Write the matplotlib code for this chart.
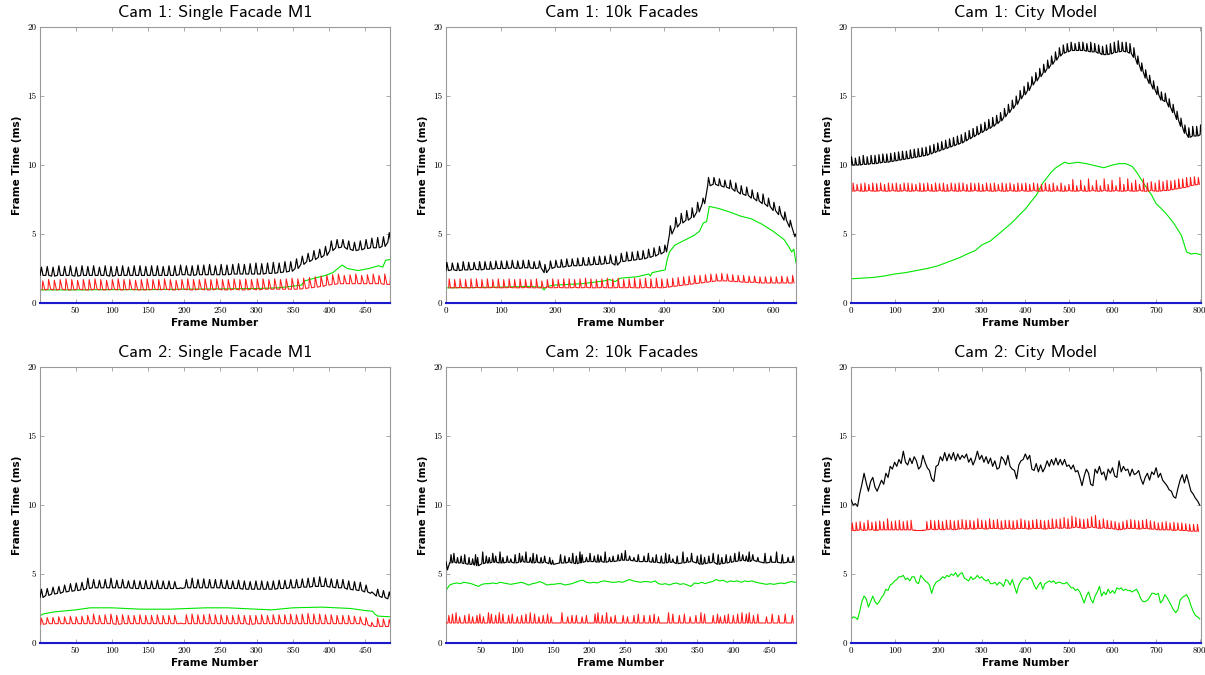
import matplotlib
matplotlib.use("Agg")
import matplotlib.pyplot as plt
import numpy as np

# ---------------- Cam 1: Single Facade M1 (frames 1..484) ----------------
c1f_black_lo = [2.0, 2.0, 1.95, 2.0, 2.0, 2.0, 1.95, 2.0, 2.0, 2.0,
                2.0, 2.0, 1.95, 2.0, 2.0, 2.0, 2.0, 2.0, 2.0, 2.0,
                2.0, 2.0, 2.0, 2.0, 2.05, 2.05, 2.0, 2.05, 2.05, 2.05,
                2.05, 2.05, 2.05, 2.1, 2.1, 2.1, 2.1, 2.1, 2.1, 2.15,
                2.15, 2.2, 2.25, 2.3, 2.5, 2.8, 3.0, 3.15, 3.3, 3.45,
                3.8, 4.0, 4.05, 3.9, 3.8, 3.85, 3.95, 4.0, 4.0, 4.1,
                4.4]
c1f_black_hi = [2.6, 2.65, 2.6, 2.7, 2.65, 2.7, 2.6, 2.7, 2.65, 2.7,
                2.6, 2.7, 2.65, 2.65, 2.7, 2.6, 2.7, 2.7, 2.65, 2.7,
                2.7, 2.65, 2.7, 2.7, 2.75, 2.7, 2.7, 2.75, 2.75, 2.8,
                2.7, 2.8, 2.75, 2.8, 2.85, 2.8, 2.85, 2.9, 2.85, 2.9,
                2.95, 2.9, 3.0, 3.0, 3.2, 3.4, 3.6, 3.8, 3.9, 4.1,
                4.5, 4.6, 4.6, 4.5, 4.4, 4.5, 4.6, 4.7, 4.75, 4.8,
                5.1]
c1f_red_lo = [0.95, 1.0, 0.95, 1.0, 0.95, 0.95, 1.0, 0.95, 0.95, 1.0,
              0.95, 0.95, 1.0, 0.95, 0.95, 1.0, 0.95, 0.95, 0.95, 1.0,
              0.95, 1.0, 0.95, 0.95, 1.0, 0.95, 0.95, 1.0, 0.95, 0.95,
              1.0, 0.95, 0.95, 1.0, 0.95, 0.95, 1.0, 0.95, 1.0, 1.0,
              1.0, 1.0, 1.0, 1.0, 1.0, 1.05, 1.1, 1.15, 1.2, 1.3,
              1.35, 1.4, 1.4, 1.4, 1.4, 1.4, 1.4, 1.4, 1.4, 1.35,
              1.35]
c1f_red_hi = [1.6, 1.7, 1.65, 1.7, 1.75, 1.7, 1.65, 1.7, 1.7, 1.75,
              1.7, 1.65, 1.7, 1.75, 1.7, 1.7, 1.65, 1.7, 1.75, 1.7,
              1.7, 1.75, 1.7, 1.65, 1.7, 1.75, 1.7, 1.7, 1.75, 1.7,
              1.75, 1.7, 1.7, 1.75, 1.7, 1.75, 1.7, 1.75, 1.75, 1.7,
              1.75, 1.7, 1.75, 1.8, 1.75, 1.8, 1.85, 1.9, 1.95, 2.0,
              2.05, 2.1, 2.0, 2.05, 2.1, 2.0, 2.05, 2.1, 2.0, 2.1,
              2.1]
c1f_green_x = [1, 50, 100, 150, 200, 250, 300, 330, 355, 362,
               366, 380, 395, 405, 412, 418, 425, 440, 455, 468,
               474, 478, 484]
c1f_green_y = [0.95, 0.95, 0.97, 0.97, 1.0, 1.02, 1.05, 1.1, 1.25, 1.3,
               1.6, 1.8, 2.0, 2.2, 2.5, 2.75, 2.5, 2.35, 2.5, 2.7,
               2.6, 3.1, 3.15]

# ---------------- Cam 1: 10k Facades (frames 0..642) ----------------
c1k_black_lo = [2.35, 2.4, 2.35, 2.4, 2.4, 2.45, 2.4, 2.45, 2.45, 2.5,
                2.5, 2.5, 2.55, 2.5, 2.55, 2.55, 2.5, 2.55, 2.2, 2.5,
                2.6, 2.6, 2.65, 2.7, 2.7, 2.75, 2.75, 2.8, 2.8, 2.85,
                2.9, 2.75, 3.0, 3.05, 3.1, 3.15, 3.2, 3.3, 3.4, 3.55,
                3.7, 5.0, 5.5, 5.8, 6.0, 6.2, 6.6, 7.2, 8.5, 8.6,
                8.5, 8.4, 8.3, 8.1, 7.9, 7.8, 7.6, 7.4, 7.2, 7.0,
                6.7, 6.4, 6.0, 5.5, 4.8]
c1k_black_hi = [2.95, 2.9, 2.9, 3.0, 2.95, 2.95, 3.0, 3.0, 3.0, 3.05,
                3.05, 3.05, 3.1, 3.05, 3.1, 3.1, 3.0, 3.05, 2.8, 3.05,
                3.1, 3.15, 3.2, 3.2, 3.25, 3.3, 3.3, 3.35, 3.4, 3.4,
                3.5, 3.4, 3.6, 3.7, 3.7, 3.75, 3.8, 3.9, 4.0, 4.1,
                4.2, 5.6, 6.2, 6.5, 6.7, 6.9, 7.3, 7.6, 9.1, 9.1,
                9.0, 8.9, 8.9, 8.7, 8.5, 8.4, 8.2, 8.0, 7.9, 7.6,
                7.3, 7.0, 6.6, 6.0, 5.0]
c1k_red_lo = [1.1, 1.1, 1.12, 1.1, 1.1, 1.12, 1.1, 1.1, 1.12, 1.1,
              1.1, 1.12, 1.1, 1.1, 1.12, 1.1, 1.1, 1.1, 1.12, 1.1,
              1.12, 1.1, 1.1, 1.12, 1.1, 1.12, 1.1, 1.1, 1.12, 1.1,
              1.1, 1.12, 1.1, 1.12, 1.1, 1.1, 1.12, 1.1, 1.12, 1.1,
              1.15, 1.2, 1.25, 1.3, 1.35, 1.4, 1.45, 1.5, 1.55, 1.6,
              1.6, 1.6, 1.55, 1.55, 1.5, 1.5, 1.5, 1.45, 1.45, 1.45,
              1.45, 1.45, 1.45, 1.45]
c1k_red_hi = [1.75, 1.7, 1.75, 1.7, 1.75, 1.75, 1.7, 1.75, 1.7, 1.75,
              1.7, 1.75, 1.7, 1.75, 1.7, 1.7, 1.75, 1.6, 1.7, 1.75,
              1.7, 1.75, 1.75, 1.7, 1.75, 1.8, 1.75, 1.7, 1.75, 1.8,
              1.75, 1.8, 1.7, 1.75, 1.8, 1.75, 1.8, 1.75, 1.8, 1.75,
              1.75, 1.8, 1.85, 1.9, 1.95, 2.0, 2.0, 2.05, 2.1, 2.1,
              2.15, 2.1, 2.05, 2.0, 2.0, 1.95, 1.95, 1.9, 1.9, 1.9,
              1.9, 1.95, 1.9, 2.0]
c1k_green_x = [0, 50, 100, 150, 175, 180, 185, 200, 250, 290,
               300, 310, 320, 350, 372, 375, 378, 390, 402, 406,
               410, 420, 440, 455, 465, 472, 478, 483, 500, 520,
               540, 560, 580, 600, 620, 630, 634, 638, 642]
c1k_green_y = [1.1, 1.12, 1.15, 1.2, 1.15, 0.95, 1.2, 1.3, 1.4, 1.6,
               1.7, 1.55, 1.8, 1.9, 2.1, 1.95, 2.2, 2.3, 2.4, 3.2,
               3.7, 4.2, 4.6, 4.9, 5.2, 5.8, 5.9, 7.0, 6.85, 6.6,
               6.3, 6.1, 5.7, 5.2, 4.6, 4.0, 3.7, 3.9, 2.9]

# ---------------- Cam 1: City Model (frames 0..802) ----------------
c1c_black_lo = [10.0, 10.0, 10.0, 10.05, 10.05, 10.1, 10.1, 10.15, 10.2, 10.2,
                10.25, 10.3, 10.35, 10.4, 10.45, 10.5, 10.55, 10.6, 10.65, 10.7,
                10.8, 10.9, 11.0, 11.1, 11.2, 11.3, 11.4, 11.5, 11.6, 11.75,
                11.9, 12.05, 12.2, 12.35, 12.5, 12.65, 12.8, 13.0, 13.2, 13.5,
                13.8, 14.1, 14.4, 14.8, 15.1, 15.4, 15.8, 16.1, 16.4, 16.7,
                17.0, 17.3, 17.6, 17.9, 18.1, 18.2, 18.3, 18.3, 18.3, 18.3,
                18.25, 18.2, 18.2, 18.1, 18.0, 18.0, 18.05, 18.15, 18.2, 18.25,
                18.2, 18.1, 17.8, 17.3, 16.8, 16.3, 15.9, 15.5, 15.1, 14.7,
                14.6, 14.2, 13.8, 13.3, 12.8, 12.3, 12.0, 12.1, 12.1, 12.2]
c1c_black_hi = [10.6, 10.5, 10.6, 10.7, 10.6, 10.7, 10.7, 10.75, 10.8, 10.8,
                10.85, 10.9, 10.95, 11.0, 11.0, 11.1, 11.15, 11.2, 11.25, 11.3,
                11.4, 11.5, 11.6, 11.7, 11.8, 11.9, 12.0, 12.1, 12.2, 12.35,
                12.5, 12.65, 12.8, 12.95, 13.1, 13.3, 13.45, 13.6, 13.8, 14.1,
                14.4, 14.7, 15.0, 15.4, 15.7, 16.0, 16.4, 16.7, 17.0, 17.3,
                17.6, 17.9, 18.2, 18.5, 18.7, 18.8, 18.9, 18.8, 18.9, 18.9,
                18.8, 18.9, 18.8, 18.7, 18.6, 18.7, 18.8, 18.9, 19.0, 18.9,
                18.9, 18.8, 18.5, 17.9, 17.4, 16.9, 16.5, 16.1, 15.7, 15.3,
                15.2, 14.8, 14.4, 13.9, 13.4, 12.9, 12.7, 12.8, 12.8, 12.9]
c1c_red_lo = [8.1, 8.15, 8.1, 8.1, 8.15, 8.1, 8.1, 8.15, 8.1, 8.1,
              8.15, 8.1, 8.1, 8.15, 8.1, 8.1, 8.15, 8.1, 8.1, 8.15,
              8.1, 8.1, 8.15, 8.1, 8.1, 8.15, 8.1, 8.1, 8.15, 8.1,
              8.1, 8.15, 8.1, 8.1, 8.15, 8.1, 8.1, 8.15, 8.1, 8.1,
              8.15, 8.1, 8.1, 8.15, 8.1, 8.1, 8.15, 8.1, 8.1, 8.15,
              8.1, 8.1, 8.15, 8.1, 8.1, 8.15, 8.1, 8.1, 8.15, 8.1,
              8.1, 8.15, 8.1, 8.1, 8.15, 8.1, 8.1, 8.15, 8.1, 8.1,
              8.15, 8.1, 8.1, 8.15, 8.1, 8.1, 8.15, 8.1, 8.1, 8.15,
              8.15, 8.2, 8.25, 8.3, 8.35, 8.4, 8.5, 8.55, 8.6]
c1c_red_hi = [8.7, 8.6, 8.65, 8.7, 8.6, 8.7, 8.65, 8.7, 8.6, 8.7,
              8.65, 8.7, 8.6, 8.7, 8.7, 8.65, 8.6, 8.7, 8.65, 8.7,
              8.6, 8.7, 8.65, 8.7, 8.6, 8.7, 8.65, 8.7, 8.7, 8.6,
              8.7, 8.65, 8.7, 8.6, 8.7, 8.65, 8.7, 8.6, 8.7, 8.65,
              8.7, 8.6, 8.7, 8.65, 8.7, 8.6, 8.7, 8.65, 8.6, 8.7,
              8.6, 8.7, 8.5, 8.7, 8.5, 8.6, 8.95, 8.5, 8.9, 8.5,
              9.0, 8.5, 8.9, 8.5, 9.0, 8.6, 8.9, 8.5, 9.1, 8.6,
              9.0, 8.7, 8.9, 8.6, 9.0, 8.7, 8.8, 8.7, 8.9, 8.8,
              8.9, 8.85, 8.9, 9.0, 9.0, 9.1, 9.1, 9.15, 9.1]
c1c_green_x = [0, 25, 50, 75, 100, 125, 150, 175, 200, 225,
               250, 270, 285, 300, 320, 335, 350, 365, 375, 390,
               400, 412, 425, 440, 450, 460, 470, 480, 490, 500,
               520, 540, 560, 580, 590, 600, 615, 630, 645, 655,
               665, 675, 690, 700, 710, 725, 740, 750, 758, 765,
               770, 780, 790, 802]
c1c_green_y = [1.75, 1.8, 1.85, 1.95, 2.1, 2.2, 2.35, 2.5, 2.7, 3.0,
               3.3, 3.6, 3.8, 4.2, 4.5, 4.9, 5.3, 5.7, 6.0, 6.5,
               6.8, 7.3, 7.8, 8.7, 9.1, 9.5, 9.8, 10.0, 10.2, 10.1,
               10.2, 10.1, 9.95, 9.8, 9.9, 10.0, 10.1, 10.1, 9.9, 9.5,
               9.0, 8.5, 7.8, 7.2, 6.9, 6.4, 5.8, 5.3, 4.9, 4.2,
               3.7, 3.55, 3.6, 3.5]

# ---------------- Cam 2: Single Facade M1 (frames 1..484) ----------------
c2f_black_lo = [3.3, 3.45, 3.55, 3.6, 3.7, 3.75, 3.8, 3.85, 3.95, 4.0,
                4.0, 4.0, 4.0, 4.0, 4.0, 4.0, 3.95, 3.95, 3.95, 3.95,
                3.95, 3.95, 3.95, 3.95, 3.95, 4.0, 4.0, 4.0, 4.0, 4.0,
                4.0, 4.0, 3.95, 3.95, 3.95, 3.9, 3.9, 3.9, 3.9, 3.9,
                3.9, 3.95, 3.95, 4.0, 4.0, 4.05, 4.05, 4.1, 4.1, 4.1,
                4.05, 4.0, 4.0, 3.9, 3.85, 3.8, 3.7, 3.6, 3.4, 3.3,
                3.2]
c2f_black_hi = [3.9, 3.95, 4.05, 4.1, 4.2, 4.3, 4.35, 4.4, 4.7, 4.6,
                4.55, 4.6, 4.7, 4.55, 4.6, 4.5, 4.55, 4.5, 4.55, 4.5,
                4.55, 4.5, 4.5, 4.45, 4.0, 4.6, 4.7, 4.6, 4.65, 4.6,
                4.6, 4.6, 4.55, 4.5, 4.55, 4.5, 4.45, 4.5, 4.5, 4.45,
                4.5, 4.55, 4.55, 4.6, 4.6, 4.65, 4.7, 4.75, 4.8, 4.7,
                4.65, 4.6, 4.6, 4.5, 4.45, 4.4, 4.2, 3.7, 3.9, 3.8,
                3.7]
c2f_red_lo = [1.35, 1.4, 1.4, 1.4, 1.4, 1.4, 1.4, 1.4, 1.4, 1.4,
              1.4, 1.4, 1.4, 1.35, 1.4, 1.4, 1.4, 1.4, 1.4, 1.4,
              1.4, 1.4, 1.4, 1.4, 1.4, 1.4, 1.4, 1.4, 1.4, 1.4,
              1.4, 1.4, 1.4, 1.4, 1.4, 1.4, 1.35, 1.4, 1.4, 1.4,
              1.4, 1.4, 1.4, 1.4, 1.4, 1.4, 1.4, 1.4, 1.4, 1.4,
              1.4, 1.4, 1.4, 1.4, 1.4, 1.4, 1.3, 1.2, 1.2, 1.2,
              1.2]
c2f_red_hi = [1.8, 1.85, 1.85, 1.9, 1.9, 1.95, 1.9, 1.95, 2.0, 2.1,
              2.0, 2.05, 2.1, 2.0, 2.05, 2.0, 2.0, 2.05, 2.0, 2.0,
              2.05, 2.0, 2.0, 2.0, 1.45, 2.05, 2.1, 2.05, 2.05, 2.1,
              2.05, 2.05, 2.0, 2.0, 2.05, 2.0, 2.0, 2.0, 2.05, 2.0,
              2.05, 2.05, 2.05, 2.1, 2.05, 2.1, 2.15, 2.1, 2.1, 2.05,
              2.05, 2.0, 2.0, 2.0, 1.95, 1.9, 1.85, 1.5, 1.8, 1.75,
              1.7]
c2f_green_x = [1, 5, 20, 50, 70, 100, 140, 180, 230, 260,
               300, 320, 350, 390, 430, 450, 460, 463, 467, 484]
c2f_green_y = [1.95, 2.1, 2.25, 2.4, 2.55, 2.55, 2.45, 2.45, 2.55, 2.55,
               2.45, 2.4, 2.55, 2.6, 2.5, 2.35, 2.3, 2.1, 1.95, 1.9]

# ---------------- Cam 2: 10k Facades (frames 1..487) ----------------
c2k_black_lead_x = [1, 3, 6]
c2k_black_lead_y = [5.9, 5.3, 5.8]
c2k_black_spike_x = [8, 12, 17, 22, 27, 33, 38, 42, 45, 52,
                     57, 61, 66, 70, 76, 80, 86, 91, 97, 103,
                     107, 112, 118, 122, 127, 133, 138, 145, 149, 160,
                     166, 172, 177, 182, 187, 190, 196, 201, 207, 212,
                     216, 222, 228, 233, 240, 245, 250, 256, 262, 268,
                     276, 282, 288, 293, 300, 306, 311, 316, 322, 330,
                     336, 342, 350, 355, 360, 366, 372, 379, 384, 390,
                     396, 402, 408, 413, 418, 422, 427, 434, 444, 452,
                     460, 468, 476, 483]
c2k_black_spike_top = [6.4, 6.5, 6.2, 6.3, 6.4, 6.2, 6.1, 6.4, 6.2, 6.6,
                       6.3, 6.2, 6.5, 6.3, 6.6, 6.2, 6.3, 6.1, 6.4, 6.5,
                       6.3, 6.6, 6.2, 6.5, 6.4, 6.2, 6.3, 6.2, 6.0, 6.4,
                       6.3, 6.2, 6.5, 6.3, 6.6, 6.4, 6.2, 6.5, 6.3, 6.4,
                       6.3, 6.6, 6.2, 6.3, 6.4, 6.5, 6.7, 6.3, 6.2, 6.4,
                       6.3, 6.5, 6.2, 6.4, 6.3, 6.5, 6.4, 6.1, 6.3, 6.6,
                       6.2, 6.5, 6.3, 6.4, 6.2, 6.3, 6.5, 6.4, 6.2, 6.4,
                       6.3, 6.5, 6.6, 6.4, 6.3, 6.6, 6.4, 6.2, 6.5, 6.3,
                       6.6, 6.4, 6.2, 6.3]
c2k_black_base = [5.8, 5.85, 5.8, 5.8, 5.75, 5.7, 5.7, 5.65, 5.6, 5.75,
                  5.8, 5.8, 5.85, 5.85, 5.8, 5.8, 5.85, 5.85, 5.8, 5.85,
                  5.9, 5.85, 5.85, 5.8, 5.85, 5.8, 5.85, 5.75, 5.7, 5.8,
                  5.8, 5.85, 5.8, 5.75, 5.8, 5.85, 5.9, 5.9, 5.9, 5.85,
                  5.9, 5.85, 5.9, 5.9, 5.95, 6.0, 6.0, 6.0, 5.95, 5.9,
                  5.9, 5.9, 5.85, 5.85, 5.8, 5.8, 5.85, 5.85, 5.75, 5.8,
                  5.85, 5.9, 5.8, 5.7, 5.75, 5.8, 5.85, 5.7, 5.75, 5.8,
                  5.85, 5.9, 5.95, 6.0, 5.95, 5.9, 6.0, 5.9, 5.8, 5.85,
                  5.85, 5.8, 5.85, 5.85]
c2k_red_spike_x = [5, 10, 15, 20, 27, 33, 38, 44, 48, 53,
                   60, 64, 70, 75, 80, 88, 93, 100, 106, 112,
                   118, 124, 130, 136, 142, 147, 162, 170, 176, 182,
                   190, 196, 208, 212, 218, 224, 230, 236, 247, 253,
                   262, 268, 276, 284, 290, 296, 310, 316, 325, 332,
                   340, 348, 355, 360, 372, 378, 382, 388, 393, 400,
                   406, 412, 418, 422, 428, 434, 446, 454, 463, 472,
                   482]
c2k_red_spike_top = [2.0, 2.1, 2.2, 1.9, 2.0, 2.1, 1.9, 2.0, 2.1, 1.9,
                     2.2, 2.1, 2.0, 2.2, 2.1, 2.0, 2.1, 1.9, 2.0, 2.1,
                     2.2, 2.1, 1.9, 2.0, 2.1, 1.9, 2.2, 1.9, 2.0, 2.0,
                     1.9, 2.0, 2.1, 2.2, 2.0, 2.2, 1.9, 2.0, 2.0, 1.9,
                     2.0, 2.1, 2.0, 2.0, 2.1, 1.9, 2.2, 2.1, 2.0, 2.1,
                     1.9, 2.0, 2.2, 2.1, 2.0, 2.1, 1.9, 2.0, 2.1, 2.0,
                     2.1, 2.2, 2.1, 2.2, 2.0, 2.1, 1.9, 2.1, 2.0, 2.1,
                     2.0]
c2k_red_base = 1.45
c2k_green_y = [3.8, 4.2, 4.3, 4.35, 4.3, 4.4, 4.35, 4.3, 4.2, 4.1,
               4.25, 4.3, 4.3, 4.35, 4.3, 4.4, 4.35, 4.3, 4.25, 4.3,
               4.35, 4.4, 4.3, 4.2, 4.3, 4.35, 4.45, 4.35, 4.2, 4.25,
               4.25, 4.3, 4.3, 4.2, 4.25, 4.3, 4.4, 4.5, 4.55, 4.4,
               4.35, 4.4, 4.35, 4.45, 4.5, 4.45, 4.4, 4.4, 4.45, 4.4,
               4.5, 4.6, 4.5, 4.45, 4.4, 4.45, 4.45, 4.4, 4.5, 4.3,
               4.25, 4.3, 4.2, 4.3, 4.35, 4.25, 4.3, 4.2, 4.1, 4.35,
               4.3, 4.4, 4.3, 4.4, 4.45, 4.6, 4.5, 4.55, 4.4, 4.5,
               4.45, 4.5, 4.4, 4.5, 4.45, 4.5, 4.4, 4.35, 4.3, 4.25,
               4.3, 4.25, 4.3, 4.35, 4.3, 4.4, 4.45, 4.4]
c2k_green_step = 5   # one value every 5 frames, from frame 1

# ---------------- Cam 2: City Model (frames 0..802) ----------------
c2c_black_y = [10.4, 10.0, 10.1, 9.9, 10.8, 11.5, 12.3, 11.6, 11.0, 11.7,
               12.0, 11.3, 11.0, 11.4, 11.8, 11.5, 12.3, 12.0, 12.8, 12.6,
               13.1, 12.8, 13.3, 13.0, 13.9, 13.1, 12.9, 13.4, 13.0, 13.5,
               13.2, 12.6, 12.8, 13.6, 13.1, 12.7, 12.5, 11.9, 11.7, 12.8,
               12.9, 13.5, 13.2, 13.8, 13.2, 13.7, 13.3, 13.8, 13.2, 13.7,
               13.3, 13.6, 13.4, 13.7, 13.1, 13.4, 12.9, 13.3, 13.9, 13.3,
               13.6, 13.1, 13.5, 13.0, 13.4, 12.8, 13.2, 12.6, 12.7, 13.5,
               13.3, 12.9, 13.6, 12.8, 12.6, 12.5, 11.9, 12.9, 13.2, 13.3,
               13.7, 13.3, 13.6, 12.6, 12.5, 13.0, 12.4, 12.9, 12.4, 12.7,
               13.2, 12.8, 13.3, 12.9, 13.4, 12.9, 13.3, 12.9, 13.3, 12.8,
               12.9, 12.6, 12.9, 12.4, 12.5, 12.0, 11.4, 12.1, 12.6, 12.3,
               11.5, 11.4, 12.6, 12.3, 12.8, 12.2, 12.4, 11.8, 12.6, 12.3,
               12.7, 12.1, 12.0, 13.2, 12.4, 12.8, 12.5, 12.6, 12.1, 12.6,
               12.2, 12.3, 12.5, 11.9, 11.5, 12.0, 12.3, 11.8, 12.4, 12.2,
               12.7, 12.0, 12.3, 11.8, 11.6, 11.4, 11.1, 11.0, 10.6, 10.5,
               11.2, 11.8, 12.2, 11.6, 12.2, 11.6, 11.0, 10.8, 10.5, 10.3,
               10.0]
c2c_green_y = [1.7, 1.9, 1.85, 1.7, 2.3, 3.0, 3.4, 3.2, 2.6, 3.0,
               3.4, 3.0, 2.8, 3.0, 3.3, 3.5, 3.9, 3.8, 4.2, 4.3,
               4.5, 4.6, 4.8, 4.8, 4.9, 4.6, 4.7, 4.5, 4.8, 4.8,
               4.4, 4.3, 4.9, 4.7, 4.5, 4.4, 4.2, 3.6, 4.1, 4.4,
               4.5, 4.6, 4.8, 4.7, 4.9, 4.8, 5.0, 4.9, 5.1, 4.8,
               5.0, 5.1, 4.7, 4.6, 4.5, 4.8, 4.6, 4.7, 4.9, 4.7,
               4.8, 4.6, 4.5, 4.6, 4.3, 4.3, 4.4, 4.2, 4.4, 4.3,
               4.1, 4.6, 4.5, 4.2, 4.6, 4.1, 3.6, 4.2, 4.5, 4.7,
               4.7, 4.6, 4.8, 4.6, 4.2, 3.9, 4.2, 4.4, 3.9, 4.3,
               4.4, 4.5, 4.4, 4.5, 4.3, 4.4, 4.4, 4.3, 4.3, 4.4,
               4.2, 4.0, 4.0, 3.8, 3.9, 3.7, 3.3, 2.9, 3.4, 3.7,
               3.2, 2.9, 3.4, 3.7, 4.1, 3.4, 3.7, 3.5, 3.9, 3.6,
               3.8, 3.6, 4.0, 3.9, 4.0, 3.8, 3.9, 3.8, 3.8, 3.7,
               3.8, 3.9, 3.6, 3.2, 3.0, 3.0, 3.1, 3.3, 3.6, 3.6,
               3.5, 3.6, 2.9, 3.1, 3.5, 3.3, 3.0, 2.7, 2.4, 2.2,
               2.4, 3.1, 3.3, 3.4, 3.5, 3.2, 2.7, 2.3, 2.0, 1.9,
               1.75]
c2c_step = 5   # one value every 5 frames, from frame 0
c2c_red_lo = [8.15, 8.15, 8.2, 8.15, 8.2, 8.2, 8.15, 8.2, 8.2, 8.2,
              8.2, 8.2, 8.2, 8.2, 8.2, 8.2, 8.15, 8.15, 8.15, 8.2,
              8.25, 8.2, 8.25, 8.2, 8.25, 8.25, 8.2, 8.25, 8.3, 8.25,
              8.3, 8.25, 8.3, 8.3, 8.25, 8.3, 8.3, 8.3, 8.25, 8.3,
              8.3, 8.25, 8.3, 8.3, 8.3, 8.25, 8.3, 8.3, 8.3, 8.25,
              8.3, 8.3, 8.35, 8.3, 8.35, 8.3, 8.35, 8.4, 8.35, 8.3,
              8.35, 8.4, 8.35, 8.3, 8.35, 8.3, 8.3, 8.25, 8.2, 8.25,
              8.3, 8.3, 8.3, 8.25, 8.3, 8.3, 8.25, 8.25, 8.2, 8.2,
              8.2, 8.2, 8.15, 8.2, 8.15, 8.15, 8.1, 8.1, 8.1]
c2c_red_hi = [8.7, 8.75, 8.8, 8.7, 8.9, 8.75, 8.8, 8.85, 8.8, 9.0,
              8.8, 8.85, 8.9, 8.8, 8.85, 8.9, 8.2, 8.15, 8.2, 8.8,
              8.9, 8.85, 8.9, 8.8, 8.9, 8.9, 8.85, 8.9, 8.95, 8.9,
              8.9, 8.85, 9.0, 8.9, 8.85, 9.0, 8.9, 8.95, 8.85, 8.9,
              8.9, 8.85, 8.9, 9.0, 8.9, 8.85, 8.9, 8.95, 8.9, 8.85,
              8.9, 9.0, 8.95, 9.0, 9.1, 9.0, 9.2, 9.1, 9.0, 8.95,
              9.0, 9.15, 9.25, 8.9, 9.0, 8.9, 8.85, 8.8, 8.7, 8.8,
              8.9, 8.95, 8.9, 8.85, 8.9, 8.95, 8.85, 8.8, 8.7, 8.75,
              8.8, 8.7, 8.75, 8.7, 8.7, 8.65, 8.6, 8.6, 8.6]

# blue series sits on zero in every panel
blue_level = [0.0, 0.0]


def teeth(x0, period, lows, highs, rise, fall):
    # one spike per period: trough -> peak -> trough
    assert len(lows) == len(highs)
    xs, ys = [], []
    for i, (lo, hi) in enumerate(zip(lows, highs)):
        f = x0 + i * period
        xs += [f, f + rise, f + rise + fall]
        ys += [lo, hi, lo]
    return xs, ys


def spikes(lead_x, lead_y, sx, top, base):
    assert len(sx) == len(top)
    if np.isscalar(base):
        base = [base] * len(sx)
    assert len(base) == len(sx)
    xs, ys = list(lead_x), list(lead_y)
    for f, t, b in zip(sx, top, base):
        xs += [f - 1.3, f, f + 1.3]
        ys += [b, t, b]
    return xs, ys


BLACK = "#000000"
RED = "#ff1a1a"
GREEN = "#00e600"
BLUE = "#1a1acc"
FRAME = "#9a9a9a"

fig = plt.figure(figsize=(12.05, 6.75), dpi=100)

W, H = 1205.0, 675.0
lefts = [40, 446, 851]
tops = [27, 367]
aw, ah = 350, 276


def make_ax(row, col, title, xlim, xticks):
    ax = fig.add_axes([lefts[col] / W, 1 - (tops[row] + ah) / H, aw / W, ah / H])
    ax.set_xlim(*xlim)
    ax.set_ylim(0, 20)
    ax.set_xticks(xticks)
    ax.set_yticks([0, 5, 10, 15, 20])
    ax.tick_params(direction="in", length=3, width=0.6, color=FRAME,
                   top=True, right=True, labelsize=6.5, pad=2.5)
    for lbl in ax.get_xticklabels() + ax.get_yticklabels():
        lbl.set_fontfamily("cmr10")
    for s in ax.spines.values():
        s.set_color(FRAME)
        s.set_linewidth(0.8)
    ax.set_title(title, fontfamily="cmss10", fontsize=13, pad=7)
    ax.set_xlabel("Frame Number", fontweight="bold", fontsize=7.5, labelpad=2)
    ax.set_ylabel("Frame Time (ms)", fontweight="bold", fontsize=7.5, labelpad=4)
    return ax


def draw(ax, bx, by, rx, ry, gx, gy, blue_x):
    ax.plot(gx, gy, color=GREEN, lw=0.8, zorder=2)
    ax.plot(rx, ry, color=RED, lw=0.75, zorder=3)
    ax.plot(bx, by, color=BLACK, lw=0.85, zorder=4)
    ax.plot(blue_x, blue_level, color=BLUE, lw=1.5, zorder=5, clip_on=False)


# Cam 1: Single Facade M1
ax = make_ax(0, 0, "Cam 1: Single Facade M1", (1, 484), range(50, 451, 50))
bx, by = teeth(1, 8, c1f_black_lo, c1f_black_hi, 2.0, 2.2)
rx, ry = teeth(4, 8, c1f_red_lo, c1f_red_hi, 0.8, 3.0)
draw(ax, bx, by, rx, ry, c1f_green_x, c1f_green_y, [1, 484])

# Cam 1: 10k Facades
ax = make_ax(0, 1, "Cam 1: 10k Facades", (0, 642), range(0, 601, 100))
bx, by = teeth(0, 10, c1k_black_lo, c1k_black_hi, 1.5, 3.0)
rx, ry = teeth(5, 10, c1k_red_lo, c1k_red_hi, 0.8, 2.5)
draw(ax, bx, by, rx, ry, c1k_green_x, c1k_green_y, [0, 642])

# Cam 1: City Model
ax = make_ax(0, 2, "Cam 1: City Model", (0, 803), range(0, 801, 100))
bx, by = teeth(0, 9, c1c_black_lo, c1c_black_hi, 1.0, 3.0)
rx, ry = teeth(4, 9, c1c_red_lo, c1c_red_hi, 0.8, 2.5)
draw(ax, bx, by, rx, ry, c1c_green_x, c1c_green_y, [0, 803])

# Cam 2: Single Facade M1
ax = make_ax(1, 0, "Cam 2: Single Facade M1", (1, 484), range(50, 451, 50))
bx, by = teeth(1, 8, c2f_black_lo, c2f_black_hi, 2.0, 2.2)
rx, ry = teeth(2, 8, c2f_red_lo, c2f_red_hi, 0.8, 3.0)
draw(ax, bx, by, rx, ry, c2f_green_x, c2f_green_y, [1, 484])

# Cam 2: 10k Facades
ax = make_ax(1, 1, "Cam 2: 10k Facades", (1, 487), range(50, 451, 50))
bx, by = spikes(c2k_black_lead_x, c2k_black_lead_y, c2k_black_spike_x,
                c2k_black_spike_top, c2k_black_base)
rx, ry = spikes([1], [c2k_red_base], c2k_red_spike_x, c2k_red_spike_top, c2k_red_base)
gx = 1 + c2k_green_step * np.arange(len(c2k_green_y))
draw(ax, bx, by, rx, ry, gx, c2k_green_y, [1, 487])

# Cam 2: City Model
ax = make_ax(1, 2, "Cam 2: City Model", (0, 803), range(0, 801, 100))
cx = c2c_step * np.arange(len(c2c_black_y))
rx, ry = teeth(2, 9, c2c_red_lo, c2c_red_hi, 0.8, 2.5)
gx = c2c_step * np.arange(len(c2c_green_y))
draw(ax, cx, c2c_black_y, rx, ry, gx, c2c_green_y, [0, 803])

fig.savefig("out.png", dpi=100)
